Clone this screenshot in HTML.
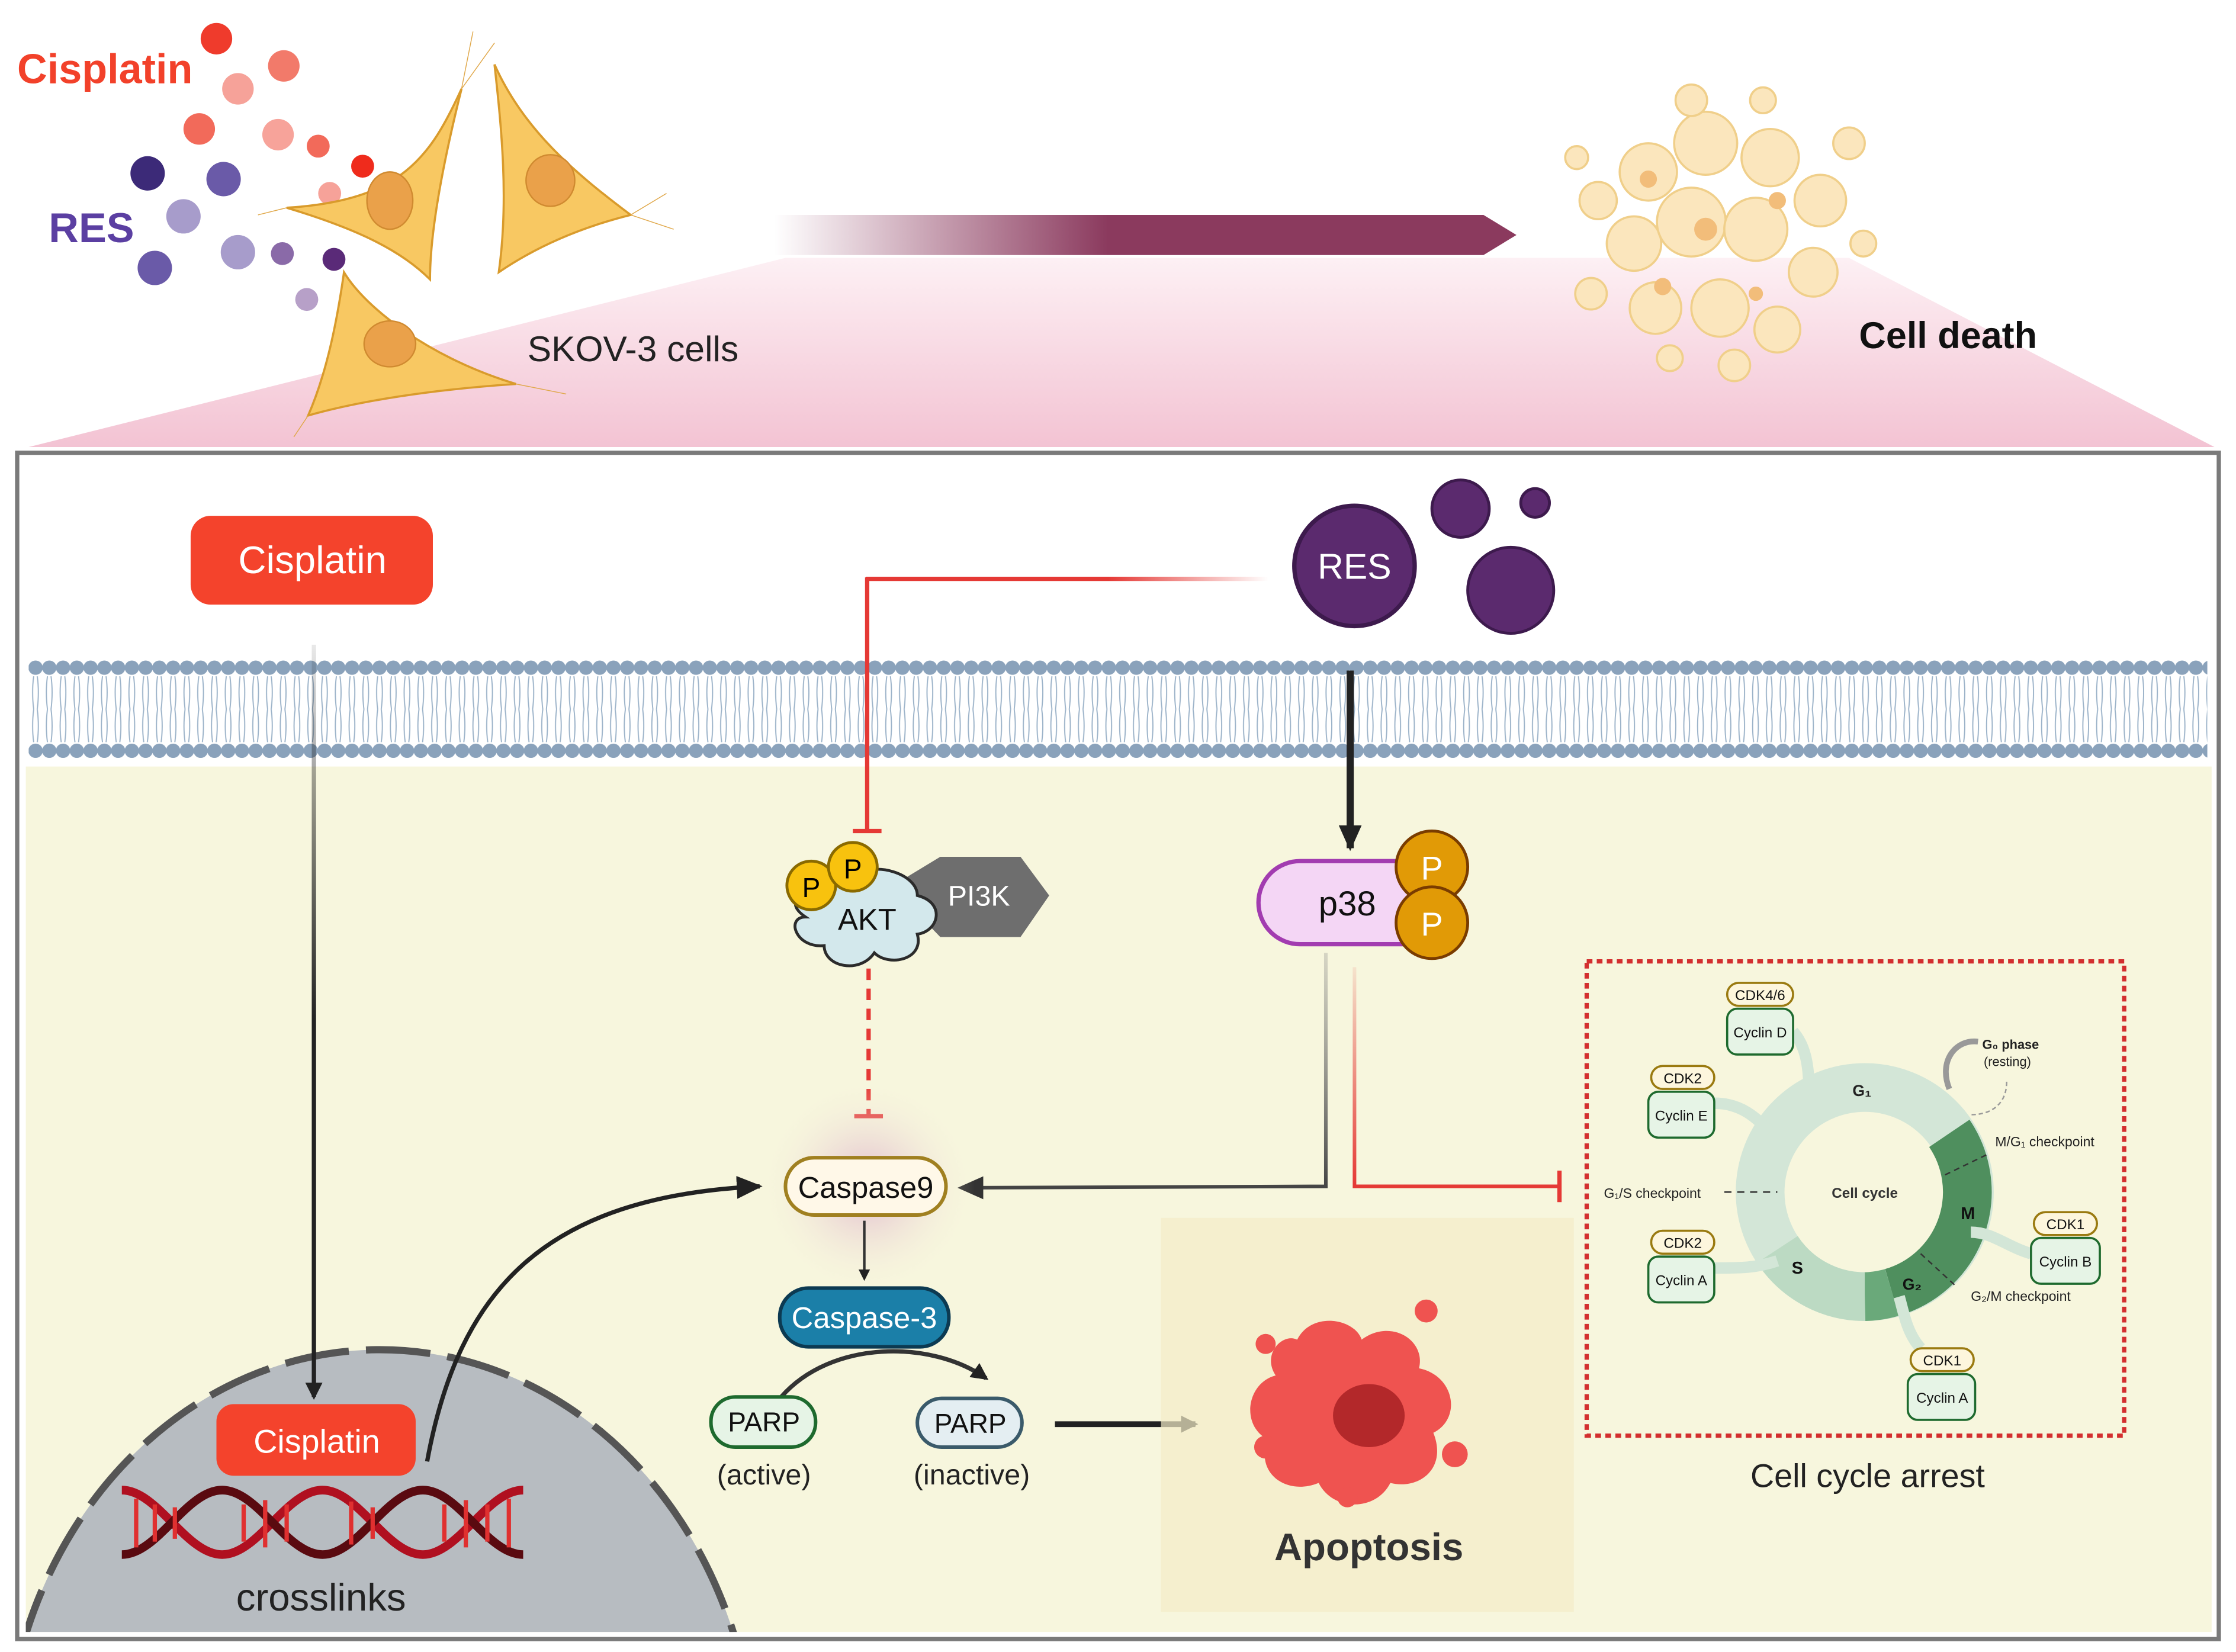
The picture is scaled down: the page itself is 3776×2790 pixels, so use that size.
<!DOCTYPE html>
<html><head><meta charset="utf-8"><style>
html,body{margin:0;padding:0;background:#fff;width:3776px;height:2790px;overflow:hidden}
svg{display:block}
text{font-family:"Liberation Sans",sans-serif}
</style></head><body>
<svg width="3776" height="2790" viewBox="0 0 1560 1153" preserveAspectRatio="none" xmlns="http://www.w3.org/2000/svg">
<defs>
<linearGradient id="pink" x1="0" y1="0" x2="0" y2="1"><stop offset="0" stop-color="#fdf0f4"/><stop offset="1" stop-color="#f3c3d3"/></linearGradient>
<linearGradient id="arr" x1="0" y1="0" x2="1" y2="0"><stop offset="0" stop-color="#8b3a5e" stop-opacity="0"/><stop offset="0.45" stop-color="#8b3a5e"/><stop offset="1" stop-color="#8b3a5e"/></linearGradient>
<linearGradient id="redfade" gradientUnits="userSpaceOnUse" x1="605" y1="0" x2="885" y2="0"><stop offset="0" stop-color="#e53935"/><stop offset="0.6" stop-color="#e53935"/><stop offset="1" stop-color="#e53935" stop-opacity="0"/></linearGradient>
<linearGradient id="vfade" gradientUnits="userSpaceOnUse" x1="0" y1="450" x2="0" y2="975"><stop offset="0" stop-color="#222" stop-opacity="0.1"/><stop offset="0.5" stop-color="#222"/><stop offset="1" stop-color="#222"/></linearGradient>
<linearGradient id="grayfade" x1="0" y1="0" x2="0" y2="1"><stop offset="0" stop-color="#888" stop-opacity="0.3"/><stop offset="1" stop-color="#444"/></linearGradient>
<linearGradient id="redv" x1="0" y1="0" x2="0" y2="1"><stop offset="0" stop-color="#e53935" stop-opacity="0.1"/><stop offset="1" stop-color="#e53935"/></linearGradient>
<radialGradient id="glow"><stop offset="0" stop-color="#d9a6c9" stop-opacity="0.8"/><stop offset="1" stop-color="#f7f4dc" stop-opacity="0"/></radialGradient>
<marker id="ah" markerWidth="8" markerHeight="8" refX="6" refY="4" orient="auto" markerUnits="userSpaceOnUse"><path d="M0,0 L8,4 L0,8 Z" fill="#222"/></marker>
<marker id="ahb" markerWidth="18" markerHeight="16" refX="16" refY="8" orient="auto" markerUnits="userSpaceOnUse"><path d="M0,0 L18,8 L0,16 Z" fill="#222"/></marker>
<marker id="ahm" markerWidth="12" markerHeight="12" refX="10" refY="6" orient="auto" markerUnits="userSpaceOnUse"><path d="M0,0 L12,6 L0,12 Z" fill="#222"/></marker>
<pattern id="heads" x="20" y="460" width="9.6" height="12" patternUnits="userSpaceOnUse"><circle cx="4.8" cy="6" r="5" fill="#8aa2bb"/></pattern>
<pattern id="tails" x="20" y="472" width="9.6" height="46" patternUnits="userSpaceOnUse"><path d="M3.5,0 Q2,11 3.5,23 M6,0 Q7.5,11 6,23 M3.5,23 Q2,35 3.5,46 M6,23 Q7.5,35 6,46" stroke="#9cb3c9" stroke-width="0.8" fill="none"/></pattern>
<pattern id="heads2" x="20" y="518" width="9.6" height="12" patternUnits="userSpaceOnUse"><circle cx="4.8" cy="6" r="5" fill="#8aa2bb"/></pattern>
<clipPath id="boxclip"><rect x="18" y="535" width="1525" height="604"/></clipPath>
</defs>
<rect width="1560" height="1153" fill="#fff"/>
<polygon points="20,312 548,180 1290,180 1545,312" fill="url(#pink)"/>
<rect x="12" y="316" width="1536" height="828" fill="#fff" stroke="#7a7a7a" stroke-width="3"/>
<rect x="18" y="535" width="1525" height="604" fill="#f7f6dd"/>
<rect x="20" y="460" width="1520" height="12" fill="url(#heads)"/>
<rect x="20" y="472" width="1520" height="46" fill="url(#tails)"/>
<rect x="20" y="518" width="1520" height="12" fill="url(#heads2)"/>

<text x="12" y="58" font-size="29" font-weight="bold" fill="#f2412a">Cisplatin</text>
<text x="34" y="169" font-size="29" font-weight="bold" fill="#5b3fa2">RES</text>
<g>
<circle cx="151" cy="27" r="11" fill="#ef3b2c"/><circle cx="198" cy="46" r="11" fill="#f27a6a"/>
<circle cx="166" cy="62" r="11" fill="#f6a299"/><circle cx="139" cy="90" r="11" fill="#f26a5a"/>
<circle cx="194" cy="94" r="11" fill="#f7a39a"/><circle cx="222" cy="102" r="8" fill="#f26a5a"/>
<circle cx="253" cy="116" r="8" fill="#ef2b1c"/><circle cx="230" cy="135" r="8" fill="#f6a299"/>
<circle cx="103" cy="121" r="12" fill="#3c2a78"/><circle cx="156" cy="125" r="12" fill="#6a5aa8"/>
<circle cx="128" cy="151" r="12" fill="#a79ccb"/><circle cx="108" cy="187" r="12" fill="#6a5aa8"/>
<circle cx="166" cy="176" r="12" fill="#a79ccb"/><circle cx="197" cy="177" r="8" fill="#8a6aa8"/>
<circle cx="233" cy="181" r="8" fill="#5a2a78"/><circle cx="214" cy="209" r="8" fill="#b7a0c8"/>
</g>
<g fill="#f8c862" stroke="#d99b2c" stroke-width="1.5">
<path d="M322,62 C300,110 280,140 200,145 C250,160 280,175 300,195 C300,160 310,110 322,62 Z"/>
<path d="M345,45 C365,90 400,120 440,150 C400,160 370,175 348,190 C355,140 350,90 345,45 Z"/>
<path d="M240,190 C255,215 300,250 360,268 C300,272 250,280 215,290 C228,260 235,225 240,190 Z"/>
</g>
<g fill="#eaa14a" stroke="#d08a30"><ellipse cx="272" cy="140" rx="16" ry="20"/><ellipse cx="384" cy="126" rx="17" ry="18"/><ellipse cx="272" cy="240" rx="18" ry="16"/></g>
<g stroke="#e0a84a" stroke-width="0.6">
<line x1="322" y1="62" x2="330" y2="22"/><line x1="322" y1="62" x2="345" y2="30"/><line x1="440" y1="150" x2="470" y2="160"/><line x1="440" y1="150" x2="465" y2="135"/><line x1="360" y1="268" x2="395" y2="275"/><line x1="215" y1="290" x2="205" y2="305"/><line x1="200" y1="145" x2="180" y2="150"/>
</g>
<text x="368" y="252" font-size="25" fill="#222">SKOV-3 cells</text>
<path d="M540,150 L1035,150 L1058,164 L1035,178 L540,178 Z" fill="url(#arr)"/>
<!-- cell death -->
<g fill="#fbe6bd" stroke="#f0cf8a" stroke-width="1.5">
<circle cx="1150" cy="120" r="20"/><circle cx="1190" cy="100" r="22"/><circle cx="1235" cy="110" r="20"/><circle cx="1270" cy="140" r="18"/>
<circle cx="1140" cy="170" r="19"/><circle cx="1180" cy="155" r="24"/><circle cx="1225" cy="160" r="22"/><circle cx="1265" cy="190" r="17"/>
<circle cx="1155" cy="215" r="18"/><circle cx="1200" cy="215" r="20"/><circle cx="1240" cy="230" r="16"/><circle cx="1115" cy="140" r="13"/>
<circle cx="1110" cy="205" r="11"/><circle cx="1290" cy="100" r="11"/><circle cx="1180" cy="70" r="11"/><circle cx="1210" cy="255" r="11"/>
<circle cx="1100" cy="110" r="8"/><circle cx="1300" cy="170" r="9"/><circle cx="1230" cy="70" r="9"/><circle cx="1165" cy="250" r="9"/>
</g>
<g fill="#f2bd7a"><circle cx="1190" cy="160" r="8"/><circle cx="1240" cy="140" r="6"/><circle cx="1160" cy="200" r="6"/><circle cx="1225" cy="205" r="5"/><circle cx="1150" cy="125" r="6"/></g>
<text x="1297" y="243" font-size="26" font-weight="bold" fill="#111">Cell death</text>

<g clip-path="url(#boxclip)">
<ellipse cx="265" cy="1240" rx="262" ry="298" fill="#b7bcc1"/>
<ellipse cx="265" cy="1240" rx="262" ry="298" fill="none" stroke="#555" stroke-width="5" stroke-dasharray="45,12"/>
</g>

<rect x="133" y="360" width="169" height="62" rx="14" fill="#f4432c"/>
<text x="218" y="400" font-size="27" fill="#fff" text-anchor="middle">Cisplatin</text>
<line x1="219" y1="450" x2="219" y2="975" stroke="url(#vfade)" stroke-width="3" marker-end="url(#ahm)"/>
<rect x="151" y="980" width="139" height="50" rx="12" fill="#f4432c"/>
<text x="221" y="1014" font-size="23" fill="#fff" text-anchor="middle">Cisplatin</text>
<g stroke-width="6" fill="none">
<path d="M85,1040 C110,1040 130,1085 155,1085 C180,1085 200,1040 225,1040 C250,1040 270,1085 295,1085 C320,1085 340,1040 365,1040" stroke="#b01020"/>
<path d="M85,1085 C110,1085 130,1040 155,1040 C180,1040 200,1085 225,1085 C250,1085 270,1040 295,1040 C320,1040 340,1085 365,1085" stroke="#5a0a10"/>
</g>
<g stroke="#e03030" stroke-width="3">
<line x1="95" y1="1046" x2="95" y2="1080"/><line x1="108" y1="1050" x2="108" y2="1076"/><line x1="122" y1="1052" x2="122" y2="1074"/><line x1="170" y1="1050" x2="170" y2="1076"/><line x1="185" y1="1047" x2="185" y2="1080"/><line x1="200" y1="1050" x2="200" y2="1076"/><line x1="245" y1="1048" x2="245" y2="1078"/><line x1="260" y1="1052" x2="260" y2="1074"/><line x1="310" y1="1050" x2="310" y2="1076"/><line x1="325" y1="1047" x2="325" y2="1080"/><line x1="340" y1="1050" x2="340" y2="1076"/><line x1="355" y1="1046" x2="355" y2="1080"/>
</g>
<text x="224" y="1124" font-size="27" fill="#222" text-anchor="middle">crosslinks</text>
<path d="M298,1020 C320,900 380,835 530,828" stroke="#222" stroke-width="3" fill="none" marker-end="url(#ahb)"/>

<circle cx="945" cy="395" r="42" fill="#5b2a6e" stroke="#3d1a4d" stroke-width="3"/>
<text x="945" y="404" font-size="25" fill="#fff" text-anchor="middle">RES</text>
<circle cx="1019" cy="355" r="20" fill="#5b2a6e" stroke="#3d1a4d" stroke-width="2"/>
<circle cx="1071" cy="351" r="10" fill="#5b2a6e" stroke="#3d1a4d" stroke-width="2"/>
<circle cx="1054" cy="412" r="30" fill="#5b2a6e" stroke="#3d1a4d" stroke-width="2"/>
<path d="M604,404 L885,404" stroke="url(#redfade)" stroke-width="3" fill="none"/>
<line x1="605" y1="403" x2="605" y2="580" stroke="#e53935" stroke-width="3"/>
<line x1="595" y1="580" x2="615" y2="580" stroke="#e53935" stroke-width="3"/>
<line x1="942" y1="468" x2="942" y2="592" stroke="#222" stroke-width="5" marker-end="url(#ahb)"/>

<polygon points="628,615 656,598 712,598 732,625 712,654 656,654 628,625" fill="#6e6e6e"/>
<text x="683" y="632" font-size="20" fill="#fff" text-anchor="middle">PI3K</text>
<path d="M565,625 C560,610 585,605 595,612 C610,600 640,610 640,625 C660,630 655,650 640,652 C645,670 620,675 610,665 C600,680 575,675 575,660 C555,662 548,640 562,640 C550,632 555,625 565,625 Z" fill="#d3e8ec" stroke="#2b2b2b" stroke-width="2"/>
<text x="605" y="649" font-size="21" fill="#111" text-anchor="middle">AKT</text>
<circle cx="566" cy="618" r="17" fill="#f8c20e" stroke="#8a6a00" stroke-width="2"/>
<text x="566" y="626" font-size="19" text-anchor="middle">P</text>
<circle cx="595" cy="605" r="17" fill="#f8c20e" stroke="#8a6a00" stroke-width="2"/>
<text x="595" y="613" font-size="19" text-anchor="middle">P</text>
<line x1="606" y1="676" x2="606" y2="778" stroke="#e53935" stroke-width="3" stroke-dasharray="8,6"/>
<line x1="596" y1="779" x2="616" y2="779" stroke="#e53935" stroke-width="3"/>

<rect x="878" y="601" width="130" height="58" rx="29" fill="#f4d6f5" stroke="#a23cb0" stroke-width="3"/>
<text x="940" y="639" font-size="24" fill="#111" text-anchor="middle">p38</text>
<circle cx="999" cy="605" r="25" fill="#e19a06" stroke="#7a3c00" stroke-width="2"/>
<text x="999" y="614" font-size="23" fill="#fff" text-anchor="middle">P</text>
<circle cx="999" cy="644" r="25" fill="#e19a06" stroke="#7a3c00" stroke-width="2"/>
<text x="999" y="653" font-size="23" fill="#fff" text-anchor="middle">P</text>
<path d="M925,665 L925,828 L672,829" stroke="url(#grayfade)" stroke-width="2.5" fill="none"/>
<path d="M686,821 L668,829 L686,837 Z" fill="#333"/>
<path d="M945,675 L945,828 L1087,828" stroke="url(#redv)" stroke-width="2.5" fill="none"/>
<line x1="1088" y1="817" x2="1088" y2="839" stroke="#e53935" stroke-width="3"/>

<circle cx="605" cy="828" r="75" fill="url(#glow)"/>
<rect x="548" y="808" width="112" height="40" rx="20" fill="#fff8e8" stroke="#a08020" stroke-width="2.5"/>
<text x="604" y="836" font-size="21" fill="#111" text-anchor="middle">Caspase9</text>
<line x1="603" y1="852" x2="603" y2="892" stroke="#333" stroke-width="1.8" marker-end="url(#ah)"/>
<rect x="544" y="899" width="118" height="41" rx="20" fill="#1b7fa8" stroke="#0c3a52" stroke-width="2.5"/>
<text x="603" y="927" font-size="21" fill="#fff" text-anchor="middle">Caspase-3</text>
<path d="M545,975 C580,935 650,935 688,962" stroke="#333" stroke-width="3" fill="none" marker-end="url(#ahm)"/>
<rect x="496" y="975" width="73" height="35" rx="17" fill="#e6f4e6" stroke="#1e6a2e" stroke-width="2.5"/>
<text x="533" y="999" font-size="19" fill="#111" text-anchor="middle">PARP</text>
<text x="533" y="1036" font-size="20" fill="#222" text-anchor="middle">(active)</text>
<rect x="640" y="976" width="73" height="34" rx="17" fill="#e4eef2" stroke="#3a5a6a" stroke-width="2.5"/>
<text x="677" y="1000" font-size="19" fill="#111" text-anchor="middle">PARP</text>
<text x="678" y="1036" font-size="20" fill="#222" text-anchor="middle">(inactive)</text>
<line x1="736" y1="994" x2="834" y2="994" stroke="#222" stroke-width="4" marker-end="url(#ahm)"/>

<rect x="810" y="850" width="288" height="275" fill="#f4edc8" opacity="0.7"/>
<path d="M905,935 C915,915 945,920 950,935 C970,920 995,935 990,955 C1015,960 1020,990 1000,1000 C1010,1025 990,1040 970,1035 C960,1055 930,1055 920,1035 C895,1045 875,1025 885,1005 C865,995 870,965 890,960 C880,945 895,930 905,935 Z" fill="#ef5350"/>
<ellipse cx="955" cy="988" rx="25" ry="22" fill="#b3282a"/>
<circle cx="883" cy="938" r="7" fill="#ef5350"/><circle cx="995" cy="915" r="8" fill="#ef5350"/><circle cx="1015" cy="1015" r="9" fill="#ef5350"/><circle cx="883" cy="1010" r="8" fill="#ef5350"/><circle cx="940" cy="1045" r="7" fill="#ef5350"/>
<text x="955" y="1089" font-size="27" font-weight="bold" fill="#333" text-anchor="middle">Apoptosis</text>

<rect x="1107" y="671" width="375" height="331" fill="none" stroke="#d32f2f" stroke-width="3" stroke-dasharray="4,3"/>
<circle cx="1301" cy="832" r="73" fill="none" stroke="#d3e6d7" stroke-width="34"/>
<path d="M1360,791 A73,73 0 0 1 1320,902" fill="none" stroke="#4f8f5e" stroke-width="34"/>
<path d="M1320,902 A73,73 0 0 1 1301,905" fill="none" stroke="#6aa97a" stroke-width="34"/>
<path d="M1301,905 A73,73 0 0 1 1240,872" fill="none" stroke="#bcdac3" stroke-width="34"/>
<text x="1299" y="765" font-size="11" font-weight="bold" fill="#222" text-anchor="middle">G₁</text>
<text x="1301" y="836" font-size="10" font-weight="bold" fill="#333" text-anchor="middle">Cell cycle</text>
<text x="1373" y="851" font-size="12" font-weight="bold" fill="#111" text-anchor="middle">M</text>
<text x="1254" y="889" font-size="12" font-weight="bold" fill="#111" text-anchor="middle">S</text>
<text x="1334" y="900" font-size="11" font-weight="bold" fill="#111" text-anchor="middle">G₂</text>
<text x="1383" y="732" font-size="9" font-weight="bold" fill="#222">G₀ phase</text>
<text x="1384" y="744" font-size="9" fill="#222">(resting)</text>
<path d="M1360,760 C1352,740 1365,725 1380,727" stroke="#999" stroke-width="4" fill="none"/>
<path d="M1400,755 C1400,770 1390,778 1375,778" stroke="#999" stroke-width="1" stroke-dasharray="3,2" fill="none"/>
<text x="1392" y="800" font-size="9.5" fill="#222">M/G₁ checkpoint</text>
<text x="1119" y="836" font-size="9.5" fill="#222">G₁/S checkpoint</text>
<line x1="1203" y1="832" x2="1240" y2="832" stroke="#333" stroke-dasharray="5,4"/>
<text x="1375" y="908" font-size="9.5" fill="#222">G₂/M checkpoint</text>
<line x1="1357" y1="820" x2="1388" y2="805" stroke="#333" stroke-dasharray="4,3"/>
<line x1="1340" y1="875" x2="1365" y2="898" stroke="#333" stroke-dasharray="4,3"/>
<g stroke="#d3e6d7" stroke-width="8" fill="none"><path d="M1196,770 C1215,770 1225,780 1235,790"/><path d="M1196,885 C1215,885 1225,885 1240,880"/><path d="M1251,720 C1260,730 1262,745 1262,760"/><path d="M1417,875 C1400,870 1390,860 1375,860"/><path d="M1340,941 C1330,930 1328,915 1325,905"/></g>
<g font-size="10" text-anchor="middle" fill="#111">
<rect x="1205" y="686" width="46" height="16" rx="8" fill="#fdf6dd" stroke="#9a7a10" stroke-width="1.5"/><text x="1228" y="698">CDK4/6</text>
<rect x="1205" y="704" width="46" height="32" rx="7" fill="#e6f4e6" stroke="#1e6a2e" stroke-width="1.5"/><text x="1228" y="724">Cyclin D</text>
<rect x="1152" y="744" width="44" height="16" rx="8" fill="#fdf6dd" stroke="#9a7a10" stroke-width="1.5"/><text x="1174" y="756">CDK2</text>
<rect x="1150" y="762" width="46" height="32" rx="7" fill="#e6f4e6" stroke="#1e6a2e" stroke-width="1.5"/><text x="1173" y="782">Cyclin E</text>
<rect x="1152" y="859" width="44" height="16" rx="8" fill="#fdf6dd" stroke="#9a7a10" stroke-width="1.5"/><text x="1174" y="871">CDK2</text>
<rect x="1150" y="877" width="46" height="32" rx="7" fill="#e6f4e6" stroke="#1e6a2e" stroke-width="1.5"/><text x="1173" y="897">Cyclin A</text>
<rect x="1419" y="846" width="44" height="16" rx="8" fill="#fdf6dd" stroke="#9a7a10" stroke-width="1.5"/><text x="1441" y="858">CDK1</text>
<rect x="1417" y="864" width="48" height="32" rx="7" fill="#e6f4e6" stroke="#1e6a2e" stroke-width="1.5"/><text x="1441" y="884">Cyclin B</text>
<rect x="1333" y="941" width="44" height="16" rx="8" fill="#fdf6dd" stroke="#9a7a10" stroke-width="1.5"/><text x="1355" y="953">CDK1</text>
<rect x="1331" y="959" width="47" height="32" rx="7" fill="#e6f4e6" stroke="#1e6a2e" stroke-width="1.5"/><text x="1355" y="979">Cyclin A</text>
</g>
<text x="1303" y="1038" font-size="23" fill="#222" text-anchor="middle">Cell cycle arrest</text>
</svg>
</body></html>
